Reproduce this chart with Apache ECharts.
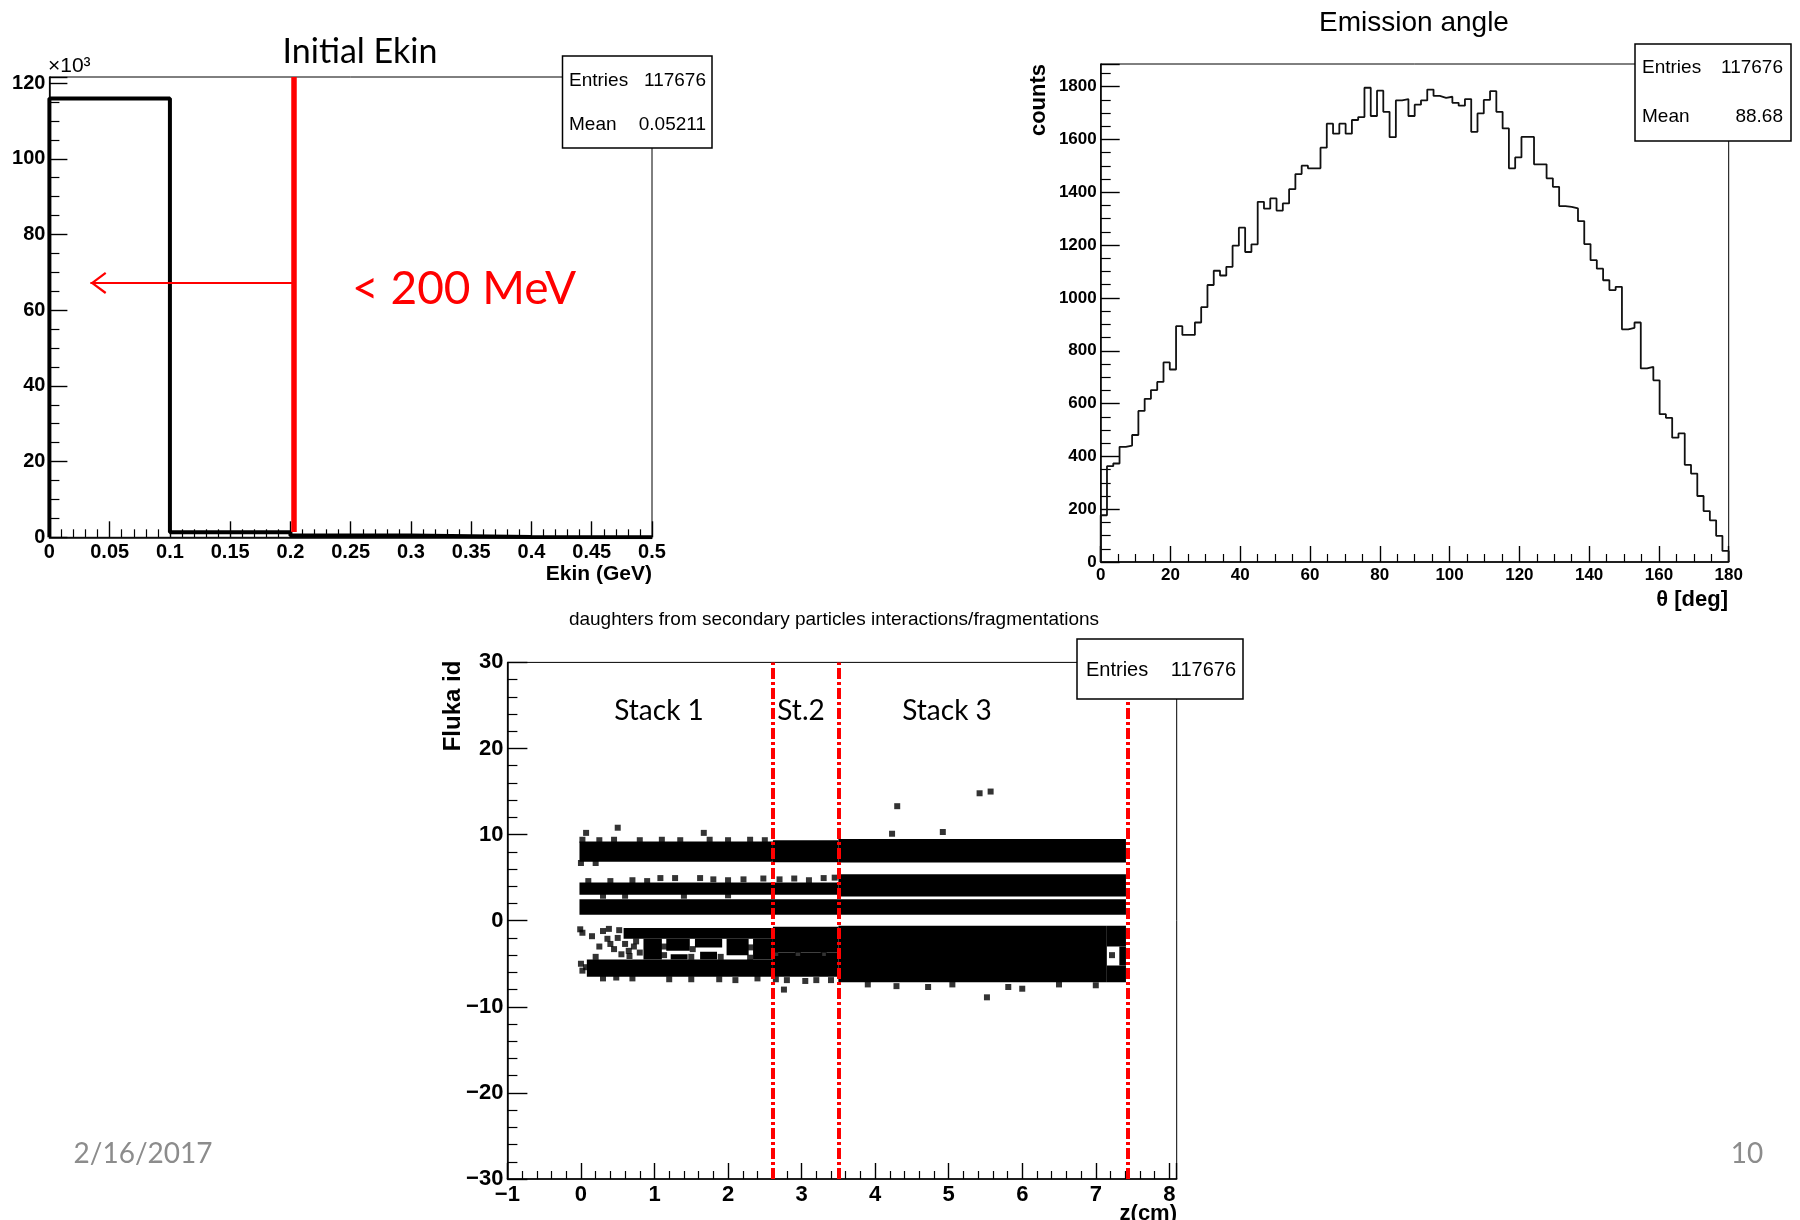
<!DOCTYPE html>
<html><head><meta charset="utf-8">
<script src="https://cdn.jsdelivr.net/npm/echarts@6/dist/echarts.min.js"></script>
<style>html,body{margin:0;padding:0;background:#fff}#c{width:1800px;height:1220px}</style>
</head><body><div id="c"></div>
<script>
// ---------- DATA ----------
// Initial Ekin histogram (counts in units of 10^3)
const ekinEdges = [0, 0.1, 0.2, 0.3, 0.4, 0.5];
const ekinCounts = [115.9, 1.35, 0.45, 0.08, 0.02];
const ekinCut = 0.203;          // red line (200 MeV)
const ekinArrow = [0.203, 0.034, 67.2]; // from x, to x, at y

// Emission angle histogram, 100 bins over 0..180 deg
const angleRange = [0, 180];
const angleCounts = [177,363,373,436,441,481,572,618,651,682,
 756,729,893,860,860,907,965,1049,1103,1085,
 1118,1198,1266,1174,1203,1364,1338,1377,1331,1358,
 1412,1469,1501,1491,1491,1569,1660,1622,1660,1622,
 1674,1685,1796,1689,1785,1705,1609,1748,1753,1689,
 1732,1748,1789,1765,1758,1762,1739,1728,1753,1629,
 1699,1750,1783,1705,1642,1491,1532,1610,1610,1506,
 1506,1453,1421,1348,1345,1339,1291,1204,1143,1111,
 1067,1030,1042,881,887,907,733,739,688,560,
 546,471,487,368,335,250,193,158,99,42];

// Fluka id vs z: dense bands [z0, z1, idLow, idHigh]
const bands = [
 [-0.02, 2.61, 6.85, 9.2], [2.61, 3.50, 6.8, 9.35], [3.50, 7.41, 6.75, 9.5],
 [-0.02, 3.50, 3.0, 4.45], [3.50, 7.41, 2.8, 5.4],
 [-0.02, 7.41, 0.7, 2.5],
 [3.50, 7.15, -7.15, -0.6], [7.15, 7.41, -3.0, -0.6], [7.15, 7.41, -7.15, -5.2], [7.32, 7.41, -5.2, -3.0],
 [2.61, 3.50, -3.7, -0.7], [2.61, 3.50, -6.5, -4.1], [2.68, 2.92, -4.1, -3.7], [2.98, 3.28, -4.1, -3.7], [3.33, 3.50, -4.1, -3.7],
 [0.58, 2.61, -2.1, -0.85], [0.08, 2.61, -6.5, -4.5],
 [0.85, 1.10, -4.5, -2.1], [1.16, 1.48, -3.5, -2.1], [1.22, 1.45, -4.5, -3.9],
 [1.55, 1.92, -3.1, -2.1], [1.62, 1.85, -4.5, -3.6], [1.98, 2.28, -4.0, -2.1], [2.34, 2.61, -4.5, -2.1]
];
// isolated / edge points [z, id]
const points = [
 [0.07,10.2],[0.5,10.8],[1.67,10.2],[4.23,10.1],[4.3,13.3],[4.92,10.3],[5.42,14.8],[5.57,15.0],
 [5.52,-8.9],[2.76,-8.0],[5.81,-7.7],[6.0,-7.9],[4.29,-7.6],[4.72,-7.7],[7.0,-7.5],[5.05,-7.4],[3.2,-6.9],[1.88,-6.8],[0.48,-6.6],[3.9,-7.4],[6.5,-7.4],
 [0.02,9.4],[0.25,9.35],[0.45,9.4],[0.8,9.35],[1.1,9.4],[1.35,9.35],[1.75,9.4],[2.0,9.35],[2.3,9.4],[2.5,9.35],[0.0,6.7],[0.2,6.7],
 [1.08,4.95],[1.28,4.95],[1.62,4.95],[1.8,4.8],[2.0,4.7],[2.21,4.8],[2.48,4.9],[2.7,4.8],[2.9,4.9],[3.1,4.7],[3.3,4.95],[3.45,5.0],
 [0.1,4.6],[0.4,4.6],[0.7,4.7],[0.9,4.6],[0.3,2.9],[0.6,2.9],[1.4,2.9],[2.0,2.95],
 [-0.01,-1.0],[0.02,-1.4],[0.15,-1.8],[0.3,-1.2],[0.36,-2.1],[0.4,-2.7],[0.45,-3.3],[0.38,-0.95],[0.52,-1.1],[0.5,-2.0],
 [0.6,-2.7],[0.55,-3.9],[0.66,-4.1],[0.72,-3.0],[0.8,-3.7],[0.0,-5.0],[0.02,-5.8],[0.07,-5.4],[0.3,-6.7],[0.7,-6.7],
 [1.2,-6.8],[1.5,-6.8],[2.1,-6.9],[2.4,-6.7],[1.13,-3.0],[1.13,-4.0],[1.5,-4.2],[1.52,-3.3],[1.9,-4.2],[2.3,-4.3],[2.31,-3.1],
 [0.65,-3.5],[0.75,-2.4],[0.25,-3.0],[0.2,-4.2],
 [2.8,-6.9],[3.05,-7.0],[3.4,-6.9],[2.65,-6.8],[2.64,-3.9],[2.95,-3.9],[3.3,-3.85],
 [7.22,-4.0]
];
const stackLines = [2.61, 3.50, 7.43];

// ---------- BUILD ----------
function stepLine(edges, counts) {
  const pts = [[edges[0], 0]];
  counts.forEach((c, i) => { pts.push([edges[i], c]); pts.push([edges[i + 1], c]); });
  pts.push([edges[edges.length - 1], 0]);
  return pts;
}
const angleEdges = angleCounts.map((_, i) => angleRange[0] + (angleRange[1] - angleRange[0]) * i / angleCounts.length).concat([angleRange[1]]);

const chart = echarts.init(document.getElementById('c'), null, {renderer: 'canvas'});
const LS = 'Liberation Sans, Arial, sans-serif';
const CAL = 'Lato, Open Sans, sans-serif';
const minus = v => (v < 0 ? '\u2212' + Math.abs(v) : String(v));

function xAx(grid, min, max, interval, split, fs, tl, ml) {
  return {gridIndex: grid, type: 'value', min, max, interval,
    axisLine: {show: true, onZero: false, lineStyle: {color: '#000', width: 1.5}},
    axisTick: {show: true, inside: true, length: tl, lineStyle: {color: '#000', width: 1.4}},
    minorTick: {show: true, splitNumber: split, length: ml, lineStyle: {color: '#000', width: 1.2}},
    splitLine: {show: false}, minorSplitLine: {show: false},
    axisLabel: {color: '#000', fontFamily: LS, fontWeight: 'bold', fontSize: fs, margin: 5, showMaxLabel: false, formatter: minus}
  };
}
const xa0 = xAx(0, 0, 0.5, 0.05, 5, 20, 16, 8); xa0.axisLabel.showMaxLabel = true;
const xa1 = xAx(1, 0, 180, 20, 4, 17, 16, 8); xa1.axisLabel.showMaxLabel = true;
const xa2 = xAx(2, -1, 8.1, 1, 5, 22, 16, 8);
const ya0 = xAx(0, 0, 121.6, 20, 4, 20, 18, 10);
const ya1 = xAx(1, 0, 1886, 200, 4, 17, 19, 10);
const ya2 = xAx(2, -30, 30, 10, 5, 22, 20, 10); ya2.axisLabel.showMaxLabel = true;
[ya0, ya1, ya2].forEach(a => { a.axisLabel.margin = 4; });

const gridBase = {show: true, borderColor: '#000', borderWidth: 1, backgroundColor: '#fff', containLabel: false, outerBoundsMode: 'none'};

const txt = (x, y, text, o) => ({type: 'text', x, y, z: 100, silent: true, style: Object.assign({text, fill: '#000', fontFamily: LS, fontSize: 19, align: 'left', verticalAlign: 'middle'}, o || {})});
const box = (x, y, w, h) => ({type: 'rect', z: 99, silent: true, shape: {x, y, width: w, height: h}, style: {fill: '#fff', stroke: '#000', lineWidth: 1.5}});

const arrowPath = 'path://M10,0 L20,13 L18.3,14.2 L10,3.2 L1.7,14.2 L0,13 Z';

const option = {
  animation: false,
  backgroundColor: '#fff',
  grid: [
    Object.assign({left: 49.4, top: 77, width: 602.6, height: 460.3}, gridBase),
    Object.assign({left: 1100.7, top: 64, width: 628, height: 498}, gridBase),
    Object.assign({left: 507.4, top: 662.4, width: 669.3, height: 516.6}, gridBase)
  ],
  xAxis: [xa0, xa1, xa2],
  yAxis: [ya0, ya1, ya2],
  series: [
    {type: 'line', xAxisIndex: 0, yAxisIndex: 0, data: stepLine(ekinEdges, ekinCounts), symbol: 'none',
     lineStyle: {color: '#000', width: 4}, z: 3,
     markLine: {silent: true, animation: false, label: {show: false}, z: 6,
       data: [
         [{coord: [ekinCut, 1.4], symbol: 'none', lineStyle: {color: '#ff0000', width: 5.5, type: 'solid'}},
          {coord: [ekinCut, 121.6], symbol: 'none'}],
         [{coord: [ekinArrow[0], ekinArrow[2]], symbol: 'none', lineStyle: {color: '#ff0000', width: 2, type: 'solid'}},
          {coord: [ekinArrow[1], ekinArrow[2]], symbol: arrowPath, symbolSize: [22, 16], symbolOffset: [0, 8]}]
       ]}
    },
    {type: 'line', xAxisIndex: 1, yAxisIndex: 1, data: stepLine(angleEdges, angleCounts), symbol: 'none',
     lineStyle: {color: '#111', width: 1.8}},
    {type: 'custom', xAxisIndex: 2, yAxisIndex: 2, data: bands, clip: true,
     encode: {x: [0, 1], y: [2, 3]},
     renderItem: function (params, api) {
       const p0 = api.coord([api.value(0), api.value(3)]);
       const p1 = api.coord([api.value(1), api.value(2)]);
       return {type: 'rect', shape: {x: p0[0], y: p0[1], width: p1[0] - p0[0], height: p1[1] - p0[1]}, style: {fill: '#000'}};
     }},
    {type: 'scatter', xAxisIndex: 2, yAxisIndex: 2, data: points, symbol: 'rect', symbolSize: 6,
     itemStyle: {color: '#000'},
     markLine: {silent: true, animation: false, symbol: 'none', label: {show: false}, z: 6,
       lineStyle: {color: '#ff0000', width: 4, type: [11, 3, 3, 3]},
       data: stackLines.map(v => ({xAxis: v}))}
    }
  ],
  graphic: [
    // top-left panel
    txt(360, 52, 'Initial Ekin', {fontFamily: CAL, fontSize: 34, align: 'center'}),
    txt(48, 66, '×10³', {fontSize: 21}),
    txt(352, 289, '< 200 MeV', {fontFamily: CAL, fontSize: 46, fill: '#ff0000'}),
    txt(652, 574, 'Ekin (GeV)', {fontWeight: 'bold', fontSize: 21, align: 'right'}),
    box(562.5, 56, 149.5, 92),
    txt(569, 81, 'Entries'), txt(706, 81, '117676', {align: 'right'}),
    txt(569, 125, 'Mean'), txt(706, 125, '0.05211', {align: 'right'}),
    // top-right panel
    txt(1414, 23, 'Emission angle', {fontSize: 28, align: 'center'}),
    txt(1039, 100, 'counts', {fontWeight: 'bold', fontSize: 22, align: 'center'}),
    txt(1728, 600, 'θ [deg]', {fontWeight: 'bold', fontSize: 22, align: 'right'}),
    box(1635, 44, 156, 97),
    txt(1642, 68, 'Entries'), txt(1783, 68, '117676', {align: 'right'}),
    txt(1642, 117, 'Mean'), txt(1783, 117, '88.68', {align: 'right'}),
    // bottom panel
    txt(834, 620, 'daughters from secondary particles interactions/fragmentations', {fontSize: 19, align: 'center'}),
    txt(453, 706, 'Fluka id', {fontWeight: 'bold', fontSize: 24, align: 'center'}),
    txt(1177, 1214, 'z(cm)', {fontWeight: 'bold', fontSize: 22, align: 'right'}),
    txt(659, 711, 'Stack 1', {fontFamily: CAL, fontSize: 28, align: 'center'}),
    txt(801, 711, 'St.2', {fontFamily: CAL, fontSize: 28, align: 'center'}),
    txt(947, 711, 'Stack 3', {fontFamily: CAL, fontSize: 28, align: 'center'}),
    box(1077, 639, 166, 60),
    txt(1086, 670, 'Entries', {fontSize: 20}), txt(1236, 670, '117676', {fontSize: 20, align: 'right'}),
    // slide footer
    txt(143, 1154, '2/16/2017', {fontFamily: CAL, fontSize: 28, fill: '#8c8c8c', align: 'center'}),
    txt(1747, 1154, '10', {fontFamily: CAL, fontSize: 28, fill: '#8c8c8c', align: 'center'})
  ]
};
// rotate axis titles
option.graphic.forEach(g => { if (g.style && (g.style.text === 'counts' || g.style.text === 'Fluka id')) g.rotation = Math.PI / 2; });
chart.setOption(option);
</script></body></html>
